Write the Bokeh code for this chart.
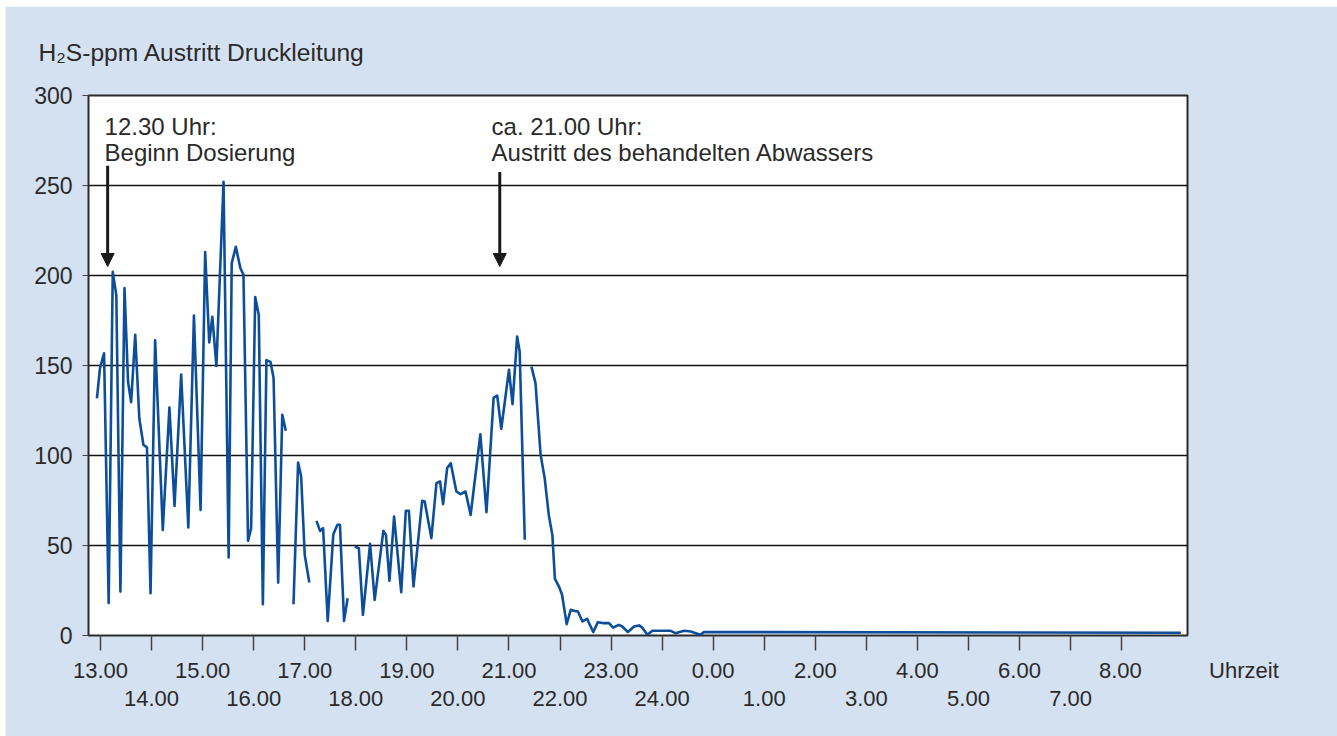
from bokeh.plotting import figure
from bokeh.models import Range1d, LinearAxis, FixedTicker, Label, Arrow, NormalHead
from bokeh.embed import file_html
from bokeh.resources import INLINE

nan = float("nan")

# hours after 13.00 (axis position), H2S ppm; NaN = gap in record
hours = [
    -0.07, -0.01, 0.07, 0.16, 0.24, 0.31, 0.39, 0.47, 0.54, 0.60, 0.68, 0.76, 0.84, 0.91, 0.98,
    1.07, 1.22, 1.35, 1.45, 1.58, 1.72, 1.83, 1.96, 2.05, 2.13, 2.19, 2.27, 2.41, 2.51, 2.57,
    2.65, 2.74, 2.80, 2.89, 2.95, 3.03, 3.10, 3.18, 3.25, 3.33, 3.39, 3.48, 3.56, 3.63,
    3.70,
    3.78, 3.87, 3.93, 4.00, 4.09,
    4.16,
    4.23, 4.30, 4.36, 4.45, 4.56, 4.64, 4.69, 4.77, 4.84,
    4.91,
    4.98, 5.06, 5.14, 5.28, 5.37, 5.54, 5.59, 5.66, 5.75, 5.89, 5.98, 6.04, 6.13, 6.30, 6.35,
    6.48, 6.58, 6.65, 6.71, 6.79, 6.86, 6.97, 7.05, 7.15, 7.25, 7.44, 7.56, 7.70, 7.77, 7.85,
    8.00, 8.07, 8.16, 8.21, 8.31,
    8.38,
    8.44, 8.52, 8.62, 8.70, 8.78, 8.85, 8.90, 8.98, 9.04, 9.13, 9.21, 9.27, 9.35, 9.44, 9.53,
    9.65, 9.74, 9.83, 9.96, 10.04, 10.15, 10.22, 10.33, 10.45, 10.55, 10.61, 10.71, 10.81,
    10.97, 11.17, 11.26, 11.43, 11.56, 11.66, 11.75, 11.82, 21.16,
]
h2s_ppm = [
    131.8, 148.5, 156.8, 18.0, 202.0, 189.0, 24.4, 193.0, 141.0, 129.6, 167.0, 120.7, 106.0, 104.4, 23.5,
    164.0, 58.7, 126.7, 72.0, 145.0, 60.0, 177.8, 69.8, 213.0, 162.8, 177.0, 149.8, 252.0, 43.3, 206.8,
    216.0, 204.0, 200.4, 52.6, 59.6, 188.0, 178.0, 17.4, 153.0, 152.0, 143.0, 29.4, 122.6, 113.7,
    nan,
    17.4, 96.1, 88.3, 44.8, 29.4,
    nan,
    63.7, 58.1, 59.6, 8.1, 56.3, 61.5, 61.5, 8.1, 20.7,
    nan,
    49.4, 48.5, 11.5, 50.9, 19.8, 58.1, 56.0, 30.4, 66.1, 24.1, 69.3, 69.3, 27.2, 74.8, 74.4,
    54.1, 84.6, 85.6, 73.0, 93.0, 95.7, 80.0, 78.5, 80.0, 67.0, 111.8, 68.5, 132.2, 133.3, 114.8,
    147.6, 128.5, 166.1, 157.8, 53.2,
    nan,
    149.4, 140.2, 100.4, 87.4, 67.0, 55.9, 31.5, 27.2, 22.6, 6.3, 14.3, 13.7, 13.3, 7.8, 9.3,
    1.9, 7.4, 6.9, 6.9, 4.4, 5.9, 5.0, 1.9, 5.0, 5.6, 4.4, 0.4, 2.6,
    2.6, 2.6, 1.3, 2.6, 2.2, 1.3, 0.4, 1.9, 1.5,
]

tick_labels = ["13.00", "14.00", "15.00", "16.00", "17.00", "18.00", "19.00", "20.00",
               "21.00", "22.00", "23.00", "24.00", "0.00", "1.00", "2.00", "3.00",
               "4.00", "5.00", "6.00", "7.00", "8.00"]
y_ticks = [0, 50, 100, 150, 200, 250, 300]

title_text = "H\u2082S-ppm Austritt Druckleitung"
x_title = "Uhrzeit"
notes = [
    ("12.30 Uhr:", "Beginn Dosierung", 0.08, 0.14),
    ("ca. 21.00 Uhr:", "Austritt des behandelten Abwassers", 7.66, 7.82),
]

FONT = "Liberation Sans"
TXT = "#2a2a2a"
BG = "#d4e1f1"
BLUE = "#0d4e9b"
TICK_FS = "22px"
TEXT_FS = "24px"
NBSP = "\u00a0"

W, H = 1332, 730
p = figure(width=W, height=H, output_backend="svg", toolbar_location=None,
           x_range=Range1d(-0.235, 21.29), y_range=Range1d(0, 300),
           min_border_left=83, min_border_right=150, min_border_top=88, min_border_bottom=101,
           margin=(6, 0, 0, 5))
p.background_fill_color = "white"
p.border_fill_color = BG
p.outline_line_color = "#2b2b2b"
p.outline_line_width = 2

p.title.text = title_text
p.title.align = "left"
p.title.offset = -50
p.title.standoff = 60
p.title.text_font = FONT
p.title.text_font_size = "24.6px"
p.title.text_font_style = "normal"
p.title.text_color = TXT

p.xgrid.visible = False
p.ygrid.ticker = FixedTicker(ticks=y_ticks)
p.ygrid.grid_line_color = "#111111"
p.ygrid.grid_line_width = 1.6

# y axis
ya = p.yaxis[0]
ya.ticker = FixedTicker(ticks=y_ticks)
ya.axis_line_color = None
ya.major_tick_out = 6
ya.major_tick_in = 0
ya.major_tick_line_color = "#444444"
ya.minor_tick_line_color = None
ya.major_label_standoff = 10
ya.major_label_text_font = FONT
ya.major_label_text_font_size = "23px"
ya.major_label_text_color = TXT

# x axis, upper row (even positions); the last label also carries the axis title
n = len(tick_labels)
upper = {i: (tick_labels[i] if i % 2 == 0 else "") for i in range(n)}
upper[n - 1] = NBSP * 22 + tick_labels[n - 1] + NBSP * 11 + x_title
xa = p.xaxis[0]
xa.ticker = FixedTicker(ticks=list(range(n)))
xa.major_label_overrides = upper
xa.axis_line_color = None
xa.major_tick_out = 15
xa.major_tick_in = 0
xa.major_tick_line_color = "#444444"
xa.major_tick_line_width = 1.5
xa.minor_tick_line_color = None
xa.major_label_standoff = 7
xa.major_label_text_font = FONT
xa.major_label_text_font_size = TICK_FS
xa.major_label_text_color = TXT

# x axis, lower row (odd positions)
xb = LinearAxis(ticker=FixedTicker(ticks=list(range(1, n, 2))),
                major_label_overrides={i: tick_labels[i] for i in range(1, n, 2)})
xb.axis_line_color = None
xb.major_tick_line_color = None
xb.major_tick_out = 0
xb.major_tick_in = 0
xb.minor_tick_line_color = None
xb.major_label_standoff = 5
xb.major_label_text_font = FONT
xb.major_label_text_font_size = TICK_FS
xb.major_label_text_color = TXT
p.add_layout(xb, "below")

p.line(hours, h2s_ppm, line_color=BLUE, line_width=2.6, line_join="round")

for l1, l2, xt, xarr in notes:
    p.add_layout(Label(x=xt, y=283, text=l1, text_font=FONT, text_font_size=TEXT_FS,
                       text_color=TXT, text_baseline="middle", text_align="left"))
    p.add_layout(Label(x=xt, y=268.5, text=l2, text_font=FONT, text_font_size=TEXT_FS,
                       text_color=TXT, text_baseline="middle", text_align="left"))

p.add_layout(Arrow(x_start=notes[0][3], y_start=261, x_end=notes[0][3], y_end=205,
                   line_width=3, line_color="#1a1a1a",
                   end=NormalHead(size=13, fill_color="#1a1a1a", line_color="#1a1a1a")))
p.add_layout(Arrow(x_start=notes[1][3], y_start=257.5, x_end=notes[1][3], y_end=205,
                   line_width=3, line_color="#1a1a1a",
                   end=NormalHead(size=13, fill_color="#1a1a1a", line_color="#1a1a1a")))

open("out.html", "w").write(file_html(p, INLINE))
